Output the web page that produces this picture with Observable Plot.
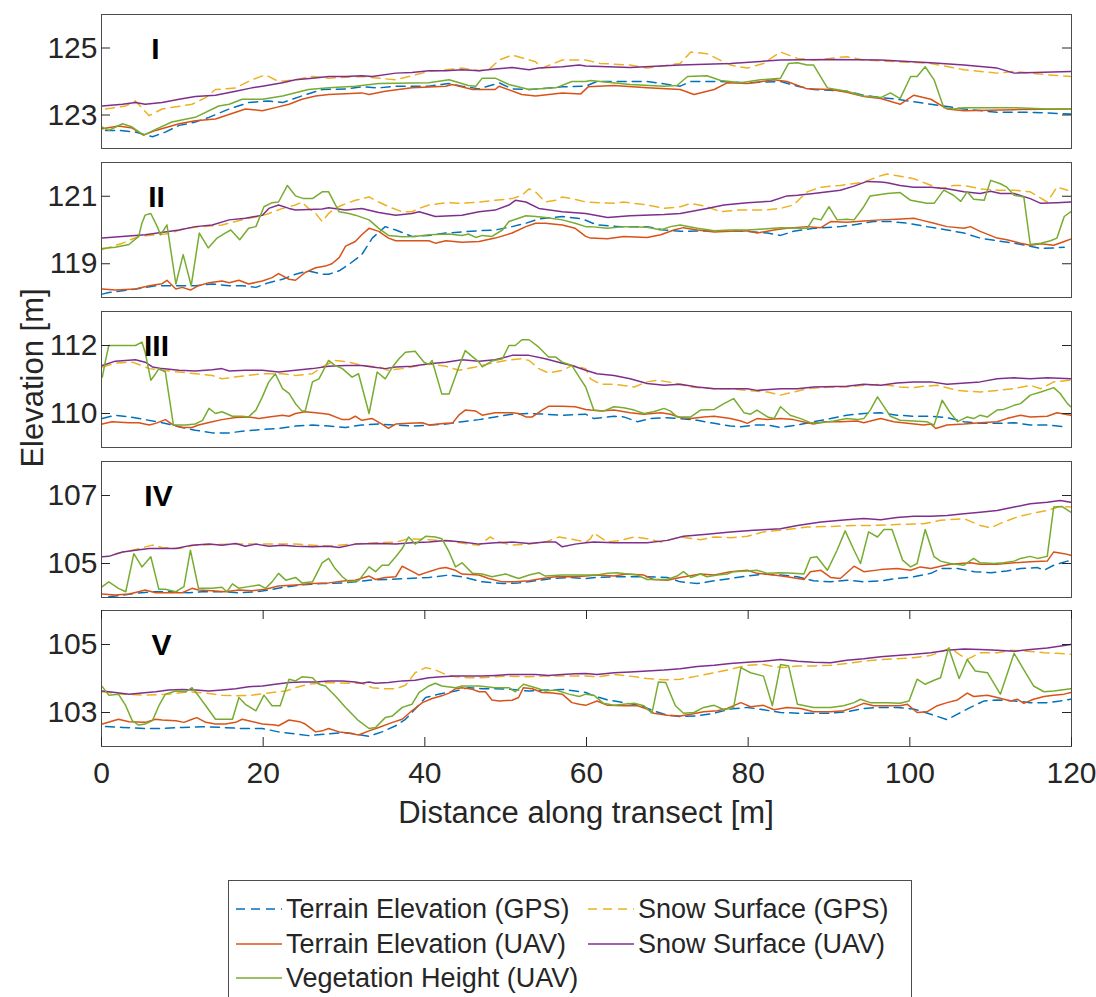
<!DOCTYPE html>
<html><head><meta charset="utf-8">
<script src="https://cdn.jsdelivr.net/npm/d3@7"></script>
<script src="https://cdn.jsdelivr.net/npm/@observablehq/plot@0.6"></script>
<style>
body{margin:0;background:#fff;font-family:"Liberation Sans",Arial,sans-serif;color:#262626;}
#fig{position:relative;width:1096px;height:997px;overflow:hidden;background:#fff;}
.panel{position:absolute;left:0;}
.lbl{position:absolute;white-space:nowrap;color:#262626;}
</style></head><body><div id="fig"></div>
<script>
// ---------- tick labels / categories ----------
const xTicks = [0, 20, 40, 60, 80, 100, 120];
const panelNames = ["I", "II", "III", "IV", "V"];
const yDomains = [[122, 126], [118, 122], [109, 113], [104, 108], [102, 106]];
const yTicks = [[123, 125], [119, 121], [110, 112], [105, 107], [103, 105]];
const seriesNames = ["Terrain Elevation (GPS)", "Snow Surface (GPS)", "Terrain Elevation (UAV)", "Snow Surface (UAV)", "Vegetation Height (UAV)"];

// ---------- Panel I ----------
const p1TerrainGPS = [[0.5,122.54],[2.1,122.54],[4.2,122.49],[6.3,122.35],[7.9,122.49],[9.6,122.69],[11.6,122.79],[13.3,122.93],[15.8,123.18],[18.2,123.37],[20.7,123.42],[22.4,123.37],[24.8,123.57],[27.3,123.76],[30.2,123.78],[32.2,123.84],[34.3,123.81],[36.4,123.86],[40.5,123.86],[43.0,123.94],[44.6,123.86],[46.7,123.78],[49.2,123.96],[50.8,123.78],[52.9,123.76],[57.0,123.84],[59.9,123.86],[61.3,124.00],[67.5,124.00],[71.6,123.86],[72.9,124.00],[76.6,124.00],[79.9,123.96],[84.0,124.00],[86.1,123.86],[88.1,123.76],[92.2,123.71],[94.3,123.59],[96.4,123.52],[98.4,123.47],[102.6,123.32],[106.7,123.18],[110.8,123.08],[114.9,123.08],[119.9,123.03]];
const p1SnowGPS = [[0.5,123.18],[3.0,123.27],[4.2,123.42],[5.9,122.98],[7.5,123.18],[11.2,123.32],[12.9,123.52],[14.1,123.76],[16.6,123.81],[18.6,124.05],[20.3,124.20],[21.9,124.00],[24.0,124.05],[26.1,124.15],[28.1,124.10],[32.2,124.15],[36.4,124.05],[40.5,124.30],[44.6,124.40],[46.7,124.32],[47.9,124.35],[49.2,124.64],[50.8,124.79],[53.7,124.59],[54.5,124.40],[57.0,124.64],[59.9,124.64],[61.7,124.54],[65.4,124.49],[67.5,124.40],[71.6,124.54],[72.9,124.88],[74.9,124.83],[77.8,124.49],[79.9,124.40],[81.9,124.54],[84.0,124.88],[86.1,124.69],[88.1,124.64],[92.2,124.74],[94.3,124.64],[98.4,124.59],[102.6,124.54],[106.7,124.35],[110.8,124.25],[112.9,124.30],[117.0,124.20],[119.9,124.15]];
const p1TerrainUAV = [[0.1,122.59],[2.1,122.67],[3.8,122.61],[5.2,122.40],[6.7,122.54],[9.6,122.74],[11.6,122.83],[14.1,122.88],[16.6,123.08],[17.8,123.18],[19.9,123.13],[21.5,123.22],[23.2,123.32],[24.8,123.47],[26.5,123.57],[28.1,123.61],[32.2,123.66],[33.1,123.61],[35.1,123.71],[38.4,123.81],[42.6,123.86],[43.4,123.91],[45.9,123.76],[48.7,123.76],[49.2,123.86],[52.0,123.61],[53.7,123.57],[57.0,123.66],[59.3,123.63],[60.2,123.84],[63.4,123.88],[67.5,123.81],[71.6,123.76],[73.3,123.61],[75.8,123.76],[77.4,123.96],[79.9,123.94],[83.2,124.05],[84.8,124.00],[87.3,123.78],[90.2,123.76],[92.2,123.68],[94.3,123.55],[96.4,123.49],[98.8,123.32],[100.5,123.59],[102.6,123.47],[104.6,123.18],[106.7,123.13],[112.9,123.16],[119.9,123.18]];
const p1SnowUAV = [[0.1,123.27],[2.6,123.32],[4.2,123.37],[5.4,123.32],[7.5,123.37],[9.6,123.47],[11.6,123.55],[14.1,123.59],[16.6,123.71],[18.6,123.81],[19.9,123.86],[22.4,123.96],[24.0,124.05],[26.1,124.10],[28.1,124.15],[30.2,124.15],[32.2,124.17],[33.5,124.15],[36.4,124.25],[38.4,124.27],[40.5,124.32],[42.6,124.32],[44.6,124.35],[46.7,124.32],[48.7,124.37],[50.8,124.42],[52.9,124.35],[54.1,124.40],[57.0,124.44],[59.1,124.49],[59.9,124.46],[65.4,124.42],[71.6,124.49],[77.8,124.54],[84.0,124.64],[90.2,124.66],[96.4,124.64],[102.6,124.56],[106.7,124.49],[110.8,124.40],[112.9,124.25],[119.9,124.30]];
const p1Veg = [[0.1,122.64],[0.9,122.54],[2.6,122.74],[3.8,122.64],[5.2,122.40],[6.7,122.57],[8.7,122.79],[11.6,122.93],[14.5,123.27],[15.8,123.32],[17.4,123.47],[19.9,123.47],[22.4,123.57],[25.6,123.76],[28.1,123.81],[31.4,123.86],[34.3,123.94],[40.5,123.96],[43.0,124.05],[45.4,123.88],[46.3,123.86],[47.1,124.10],[48.7,124.10],[50.4,123.91],[52.9,123.76],[56.2,123.81],[58.2,124.00],[59.9,124.00],[60.5,124.03],[65.4,123.91],[69.6,123.86],[71.2,123.88],[72.5,124.15],[74.9,124.17],[76.6,124.03],[79.1,123.96],[81.5,124.05],[84.0,124.10],[85.0,124.54],[86.1,124.56],[87.3,124.49],[88.1,124.49],[89.8,123.81],[92.2,123.71],[94.3,123.57],[96.4,123.52],[97.6,123.66],[98.8,123.49],[100.1,124.15],[100.9,124.15],[101.9,124.44],[103.0,124.05],[104.2,123.22],[105.4,123.18],[106.7,123.22],[112.9,123.22],[117.0,123.18],[119.9,123.18]];

// ---------- Panel II ----------
const p2TerrainGPS = [[0.1,118.10],[0.9,118.15],[2.6,118.20],[4.2,118.25],[6.7,118.35],[9.6,118.35],[11.6,118.35],[13.7,118.40],[15.8,118.35],[17.4,118.35],[19.1,118.30],[20.7,118.44],[22.4,118.54],[24.0,118.69],[25.6,118.79],[27.3,118.69],[28.1,118.69],[29.4,118.79],[30.6,118.98],[32.2,119.27],[33.5,119.76],[35.1,120.10],[36.4,120.00],[38.4,119.81],[40.5,119.84],[42.6,119.91],[44.6,119.94],[46.7,119.98],[48.7,120.00],[50.8,120.10],[52.5,120.20],[54.1,120.33],[57.0,120.40],[59.5,120.33],[61.3,120.15],[64.2,120.10],[67.5,120.10],[69.6,120.00],[71.6,119.96],[75.8,119.98],[79.9,119.96],[82.4,119.91],[84.0,119.84],[85.6,119.96],[88.1,120.05],[91.4,120.10],[93.5,120.17],[95.5,120.25],[97.6,120.25],[99.7,120.20],[102.1,120.10],[104.6,120.00],[106.7,119.91],[108.7,119.76],[110.8,119.68],[112.9,119.61],[114.9,119.52],[116.2,119.45],[117.8,119.47],[119.1,119.49]];
const p2SnowGPS = [[0.1,119.42],[2.6,119.61],[4.6,119.81],[6.7,119.86],[7.9,119.88],[9.2,119.96],[10.4,120.05],[12.5,120.10],[14.9,120.15],[16.6,120.25],[18.2,120.35],[19.5,120.40],[20.7,120.49],[22.4,120.64],[24.0,120.74],[24.8,120.83],[25.6,120.64],[26.5,120.49],[27.3,120.25],[28.1,120.49],[28.9,120.64],[29.8,120.74],[31.4,120.88],[33.1,120.98],[34.3,120.83],[35.5,120.69],[37.2,120.54],[38.4,120.54],[39.3,120.64],[40.5,120.74],[42.6,120.81],[44.6,120.79],[46.7,120.83],[48.7,120.88],[50.8,120.93],[52.0,121.03],[52.9,121.22],[53.7,121.13],[54.9,120.83],[56.2,120.88],[57.0,120.98],[58.2,120.93],[59.9,120.83],[63.4,120.79],[64.6,120.83],[67.5,120.74],[69.6,120.64],[71.6,120.69],[72.9,120.79],[74.9,120.69],[76.6,120.54],[78.6,120.59],[81.9,120.59],[84.0,120.64],[85.6,120.74],[87.3,121.13],[89.0,121.27],[91.4,121.32],[94.3,121.42],[96.4,121.61],[97.2,121.66],[99.3,121.57],[100.5,121.52],[102.1,121.37],[103.8,121.22],[105.4,121.32],[106.7,121.32],[108.7,121.22],[110.8,121.18],[112.9,121.18],[114.9,121.13],[117.0,120.83],[118.2,121.27],[119.5,121.18]];
const p2TerrainUAV = [[0.1,118.25],[1.7,118.22],[4.2,118.25],[5.9,118.35],[7.5,118.41],[8.1,118.51],[9.2,118.25],[10.0,118.30],[11.0,118.22],[12.0,118.35],[13.3,118.44],[14.9,118.49],[15.8,118.44],[17.0,118.51],[18.2,118.40],[19.9,118.49],[21.1,118.59],[21.9,118.71],[23.2,118.54],[24.0,118.51],[25.2,118.74],[26.5,118.88],[27.7,118.93],[28.5,119.00],[29.4,119.18],[30.2,119.52],[31.4,119.66],[32.2,119.86],[33.1,120.05],[34.3,119.96],[35.5,119.76],[36.4,119.68],[40.5,119.68],[41.3,119.61],[42.6,119.68],[44.6,119.64],[46.7,119.66],[48.7,119.76],[50.8,119.91],[52.5,120.10],[53.7,120.20],[54.9,120.20],[57.0,120.15],[58.6,120.05],[59.9,119.81],[60.5,119.76],[62.6,119.74],[64.6,119.81],[67.5,119.78],[69.2,119.86],[70.8,120.00],[72.0,120.07],[73.7,120.00],[75.8,119.94],[77.8,119.96],[79.9,119.98],[81.1,119.91],[83.2,120.00],[84.8,120.05],[87.3,120.10],[89.0,120.07],[90.2,120.25],[92.2,120.23],[94.3,120.27],[96.4,120.30],[98.4,120.32],[100.5,120.35],[101.3,120.30],[103.0,120.20],[104.6,120.10],[106.7,120.05],[107.5,120.10],[108.7,119.96],[110.8,119.76],[112.0,119.71],[113.7,119.61],[114.9,119.55],[116.2,119.59],[117.8,119.55],[119.1,119.66],[119.9,119.73]];
const p2SnowUAV = [[0.1,119.76],[5.4,119.86],[9.6,120.00],[11.6,120.10],[13.7,120.15],[15.8,120.30],[17.8,120.35],[19.9,120.44],[20.7,120.64],[21.9,120.74],[23.2,120.64],[24.0,120.59],[27.3,120.62],[28.1,120.66],[30.2,120.59],[32.2,120.64],[34.3,120.52],[36.4,120.44],[38.4,120.49],[39.3,120.54],[41.3,120.40],[44.6,120.44],[46.7,120.54],[48.7,120.59],[50.4,120.74],[51.2,120.88],[52.5,120.83],[54.1,120.64],[57.0,120.54],[59.9,120.49],[62.6,120.37],[65.4,120.42],[69.6,120.46],[71.6,120.49],[74.9,120.64],[77.0,120.74],[79.9,120.81],[82.8,120.85],[84.8,121.01],[86.1,121.03],[88.1,121.08],[91.4,121.18],[93.1,121.30],[94.7,121.44],[96.4,121.42],[97.2,121.40],[98.8,121.32],[100.5,121.27],[102.6,121.27],[104.6,121.22],[106.7,121.13],[108.7,121.08],[110.0,121.15],[111.2,121.08],[112.9,121.08],[114.9,120.93],[116.2,120.79],[118.2,120.81],[119.9,120.83]];
const p2Veg = [[0.1,119.45],[1.7,119.49],[3.4,119.57],[4.6,119.81],[5.0,120.20],[5.4,120.44],[6.1,120.49],[6.9,120.10],[7.3,119.86],[7.7,120.00],[8.1,120.15],[9.2,118.40],[10.1,119.27],[11.1,118.35],[12.1,119.91],[13.2,119.47],[14.3,119.76],[15.3,119.91],[16.0,120.00],[17.1,119.71],[18.2,120.05],[19.1,120.10],[20.1,120.69],[21.1,120.81],[21.9,120.83],[23.0,121.32],[24.0,121.01],[25.0,120.93],[26.1,120.93],[27.3,121.13],[28.1,121.13],[29.4,120.54],[30.6,120.49],[31.4,120.44],[33.1,120.30],[34.3,120.05],[35.5,119.84],[37.2,119.80],[38.8,119.81],[40.5,119.86],[43.0,119.88],[44.6,119.84],[45.4,119.88],[46.3,119.78],[47.1,119.84],[48.3,119.81],[49.6,120.00],[50.4,120.25],[51.6,120.35],[52.5,120.42],[53.7,120.40],[54.9,120.37],[57.0,120.30],[58.6,120.20],[59.9,120.10],[60.5,120.10],[62.6,120.05],[64.6,120.10],[67.5,120.08],[69.2,120.00],[70.4,120.10],[71.6,120.15],[73.7,120.05],[75.8,119.98],[77.8,120.00],[79.9,120.00],[81.9,120.03],[84.0,120.07],[86.5,120.05],[87.3,120.05],[88.1,120.35],[89.0,120.30],[90.0,120.69],[91.0,120.30],[92.2,120.32],[93.1,120.30],[94.3,120.69],[95.1,121.01],[97.2,121.08],[98.8,121.11],[100.1,120.88],[102.1,120.79],[103.0,120.79],[104.2,121.18],[105.4,121.03],[106.3,120.85],[107.1,121.13],[107.9,120.91],[109.2,120.88],[110.0,121.47],[111.2,121.37],[112.0,121.27],[112.9,121.03],[114.1,120.98],[114.9,119.57],[116.2,119.61],[117.4,119.68],[118.2,119.76],[119.1,120.40],[119.9,120.54]];

// ---------- Panel III ----------
const p3TerrainGPS = [[0.1,109.85],[1.7,109.95],[3.4,109.90],[5.4,109.82],[7.5,109.73],[9.6,109.61],[11.6,109.51],[13.7,109.43],[15.8,109.43],[17.8,109.49],[19.9,109.53],[21.9,109.56],[24.0,109.63],[26.1,109.66],[28.1,109.63],[30.2,109.59],[32.2,109.66],[34.3,109.69],[36.4,109.66],[38.4,109.63],[40.5,109.66],[42.6,109.69],[44.6,109.76],[46.7,109.82],[48.7,109.90],[50.8,109.98],[52.9,110.00],[54.9,109.98],[57.0,109.95],[59.9,109.98],[60.9,109.85],[63.4,109.92],[64.6,109.90],[66.3,109.76],[67.9,109.85],[69.6,109.88],[71.6,109.85],[73.7,109.80],[75.8,109.71],[77.8,109.63],[79.1,109.61],[80.7,109.66],[82.4,109.66],[84.0,109.59],[86.1,109.66],[88.1,109.76],[90.2,109.85],[92.2,109.95],[94.3,110.00],[96.4,110.02],[98.4,109.95],[100.5,109.92],[102.6,109.92],[104.6,109.88],[106.7,109.76],[108.7,109.71],[110.8,109.71],[112.9,109.73],[114.9,109.66],[117.0,109.66],[119.1,109.61]];
const p3SnowGPS = [[0.1,111.37],[1.7,111.48],[3.8,111.51],[5.0,111.41],[5.9,111.32],[7.5,111.27],[9.6,111.22],[11.6,111.17],[13.7,111.12],[14.9,111.02],[17.0,111.09],[19.9,111.17],[22.4,111.17],[24.0,111.12],[26.1,111.17],[27.3,111.37],[28.9,111.56],[30.6,111.51],[32.2,111.41],[34.3,111.37],[35.5,111.27],[37.2,111.32],[39.3,111.41],[40.5,111.46],[42.6,111.39],[44.2,111.27],[46.3,111.37],[47.9,111.46],[50.0,111.56],[52.0,111.61],[52.9,111.56],[54.1,111.32],[55.3,111.19],[57.0,111.27],[58.2,111.41],[59.9,111.32],[60.5,111.02],[61.7,110.86],[63.4,110.86],[65.9,110.78],[67.5,110.93],[68.8,110.98],[70.8,110.90],[72.9,110.78],[75.8,110.73],[77.8,110.73],[79.9,110.68],[82.4,110.63],[84.0,110.54],[85.6,110.63],[87.3,110.73],[90.2,110.78],[92.2,110.78],[94.3,110.83],[96.4,110.86],[98.8,110.78],[100.5,110.76],[101.7,110.80],[103.4,110.83],[105.9,110.68],[108.7,110.63],[110.8,110.68],[112.9,110.73],[114.9,110.83],[116.2,110.73],[117.8,110.93],[119.9,110.98]];
const p3TerrainUAV = [[0.1,109.69],[1.3,109.76],[3.4,109.73],[4.6,109.73],[5.9,109.66],[6.7,109.71],[7.9,109.82],[8.9,109.66],[10.0,109.59],[11.2,109.59],[12.0,109.66],[13.7,109.76],[14.9,109.82],[16.6,109.88],[18.2,109.90],[19.5,109.85],[20.7,109.90],[22.4,109.95],[23.2,109.92],[24.0,110.00],[25.2,110.05],[26.5,110.02],[28.1,109.98],[29.8,109.82],[30.6,109.82],[31.4,109.92],[32.2,109.80],[33.5,109.85],[34.7,109.69],[35.5,109.56],[36.4,109.69],[38.0,109.71],[39.7,109.73],[40.5,109.66],[42.6,109.71],[43.4,109.71],[44.2,109.95],[45.0,110.10],[46.3,110.07],[47.1,109.95],[48.7,110.02],[50.8,110.02],[51.6,110.00],[52.5,109.90],[53.3,109.90],[54.5,110.10],[55.3,110.21],[57.0,110.21],[58.6,110.20],[59.9,110.12],[60.5,110.10],[61.7,110.07],[63.4,110.10],[65.4,110.02],[67.1,109.98],[69.2,110.02],[70.4,109.98],[71.6,109.88],[72.9,109.85],[74.5,109.90],[75.8,109.92],[77.8,109.85],[79.1,109.78],[79.9,109.71],[81.1,109.85],[82.4,109.82],[84.0,109.85],[85.6,109.82],[87.3,109.73],[88.1,109.69],[89.4,109.76],[91.4,109.76],[93.5,109.78],[94.3,109.73],[95.5,109.80],[96.4,109.85],[98.0,109.76],[99.7,109.71],[101.7,109.66],[102.6,109.69],[103.2,109.56],[104.6,109.66],[106.7,109.69],[108.7,109.73],[110.8,109.76],[112.0,109.85],[113.7,109.95],[114.9,109.90],[117.0,109.92],[118.2,110.02],[119.9,109.95]];
const p3SnowUAV = [[0.1,111.41],[1.7,111.54],[4.2,111.58],[5.4,111.51],[6.3,111.37],[7.5,111.32],[9.6,111.27],[11.6,111.25],[13.7,111.29],[14.9,111.32],[15.8,111.25],[17.8,111.27],[19.9,111.27],[21.9,111.22],[24.0,111.27],[26.1,111.32],[28.1,111.39],[30.2,111.41],[32.2,111.41],[33.5,111.37],[35.1,111.32],[36.4,111.37],[38.4,111.39],[40.5,111.46],[42.6,111.51],[44.6,111.58],[46.7,111.54],[48.7,111.58],[50.8,111.71],[52.9,111.71],[54.9,111.61],[57.0,111.48],[58.2,111.41],[59.9,111.27],[61.3,111.17],[63.4,111.12],[65.4,111.02],[67.5,110.88],[69.6,110.83],[71.6,110.86],[73.7,110.78],[75.8,110.73],[77.8,110.73],[79.9,110.73],[81.1,110.68],[84.0,110.73],[86.1,110.73],[88.1,110.78],[92.2,110.80],[94.3,110.86],[96.4,110.83],[98.4,110.90],[100.5,110.93],[102.6,110.93],[104.6,110.86],[108.7,110.93],[110.8,111.02],[112.9,111.05],[114.9,111.02],[117.0,111.05],[119.9,111.02]];
const p3Veg = [[0.1,111.07],[0.5,111.56],[0.9,112.00],[2.6,112.00],[4.2,112.00],[5.0,112.10],[5.4,111.80],[6.1,110.98],[6.7,111.17],[7.1,111.32],[7.9,111.22],[8.9,109.66],[10.4,109.66],[11.6,109.69],[12.5,109.80],[13.3,110.15],[14.1,110.00],[14.9,110.05],[16.2,109.92],[17.4,109.92],[18.2,109.90],[19.1,110.10],[19.9,110.49],[20.7,110.93],[21.5,111.17],[22.4,110.73],[23.2,110.59],[24.0,110.29],[24.8,110.07],[25.2,110.07],[26.1,110.93],[26.9,111.02],[28.1,111.56],[28.9,111.41],[29.8,111.32],[31.0,111.07],[31.8,111.17],[33.1,110.00],[34.1,111.22],[35.1,111.02],[36.0,111.37],[36.8,111.61],[37.6,111.80],[38.8,111.83],[39.9,111.51],[40.5,111.44],[40.9,111.56],[42.1,110.57],[43.0,110.57],[44.2,111.37],[45.0,111.85],[46.7,111.51],[47.1,111.37],[48.3,111.54],[49.6,111.61],[50.4,112.00],[51.2,112.00],[52.0,112.17],[52.9,112.17],[54.1,111.95],[55.3,111.66],[56.2,111.66],[57.0,111.51],[58.2,111.41],[59.1,111.07],[59.9,110.78],[60.9,110.10],[62.1,110.07],[63.4,110.20],[64.6,110.17],[65.9,110.10],[67.1,110.00],[68.3,110.05],[69.6,110.15],[70.4,110.07],[71.2,109.90],[72.9,109.90],[74.1,110.10],[75.8,110.12],[77.0,110.29],[78.2,110.44],[79.5,110.02],[80.3,109.98],[81.1,110.10],[82.4,109.90],[83.2,109.85],[84.0,110.20],[85.2,109.95],[86.5,109.85],[87.7,109.73],[89.0,109.73],[90.6,109.78],[92.2,109.85],[93.5,109.82],[94.3,109.85],[95.1,110.10],[96.0,110.49],[96.8,110.20],[97.6,109.92],[98.8,109.80],[100.5,109.78],[102.1,109.76],[103.0,109.66],[104.0,110.39],[105.0,110.02],[105.9,109.76],[107.1,109.90],[107.9,109.85],[108.7,109.95],[109.6,109.90],[110.8,110.10],[111.6,110.12],[112.9,110.24],[113.7,110.29],[114.9,110.54],[116.2,110.63],[117.8,110.76],[118.6,110.59],[119.5,110.29],[119.9,110.20]];

// ---------- Panel IV ----------
const p4TerrainGPS = [[0.9,104.02],[2.6,104.07],[4.2,104.12],[6.3,104.17],[8.7,104.17],[10.8,104.14],[12.5,104.17],[14.9,104.17],[17.0,104.14],[19.1,104.17],[20.7,104.22],[22.4,104.30],[24.8,104.37],[27.3,104.41],[29.8,104.43],[31.4,104.46],[33.1,104.51],[35.5,104.53],[38.0,104.56],[40.5,104.59],[43.0,104.66],[44.6,104.61],[47.1,104.46],[49.6,104.41],[51.6,104.43],[53.7,104.49],[55.8,104.56],[57.8,104.59],[59.9,104.56],[61.3,104.59],[63.4,104.61],[67.5,104.61],[70.0,104.59],[71.6,104.46],[73.7,104.41],[75.8,104.49],[77.8,104.56],[79.9,104.63],[81.9,104.69],[84.0,104.66],[86.1,104.61],[88.1,104.49],[90.2,104.46],[92.2,104.51],[94.3,104.46],[96.4,104.49],[98.4,104.56],[100.5,104.61],[102.6,104.71],[103.8,104.85],[105.9,104.85],[108.0,104.76],[110.0,104.73],[112.0,104.78],[113.7,104.85],[115.8,104.88],[116.6,104.80],[117.8,104.95],[119.5,105.07],[119.9,105.10]];
const p4SnowGPS = [[1.7,105.29],[3.8,105.39],[6.3,105.54],[7.5,105.47],[9.6,105.44],[11.6,105.54],[15.8,105.57],[19.9,105.57],[24.0,105.57],[28.1,105.51],[32.2,105.59],[36.4,105.63],[38.0,105.73],[40.5,105.70],[43.0,105.66],[45.4,105.57],[46.7,105.54],[48.1,105.78],[49.2,105.63],[50.8,105.54],[52.9,105.57],[54.9,105.63],[56.6,105.78],[57.8,105.73],[59.9,105.63],[60.5,105.73],[60.9,105.90],[62.6,105.63],[64.2,105.68],[65.9,105.78],[67.5,105.73],[69.2,105.63],[71.6,105.78],[74.1,105.70],[75.8,105.78],[77.8,105.76],[79.9,105.80],[81.9,105.93],[84.0,105.98],[87.3,106.07],[90.2,106.09],[93.1,106.12],[95.5,106.12],[98.4,106.15],[101.7,106.17],[103.8,106.27],[106.7,106.32],[108.7,106.12],[110.0,106.05],[111.6,106.22],[113.3,106.37],[114.9,106.46],[117.0,106.56],[118.6,106.68],[119.9,106.66]];
const p4TerrainUAV = [[0.1,104.10],[1.7,104.07],[3.4,104.10],[4.6,104.17],[5.4,104.22],[6.7,104.14],[8.7,104.14],[10.0,104.14],[11.2,104.27],[12.0,104.22],[13.7,104.20],[15.3,104.17],[17.0,104.22],[18.6,104.20],[20.3,104.24],[21.9,104.34],[24.0,104.37],[26.1,104.41],[28.1,104.43],[30.2,104.49],[31.4,104.51],[33.1,104.63],[33.9,104.53],[35.1,104.59],[36.4,104.61],[37.2,104.92],[38.2,104.80],[39.3,104.66],[40.5,104.76],[41.7,104.85],[42.6,104.88],[43.8,104.80],[44.6,104.69],[46.7,104.66],[47.9,104.56],[49.6,104.46],[51.2,104.46],[52.9,104.49],[54.5,104.56],[56.2,104.61],[58.2,104.61],[59.9,104.63],[61.3,104.66],[63.4,104.63],[65.0,104.69],[67.1,104.66],[68.3,104.53],[70.0,104.51],[71.6,104.59],[74.1,104.69],[75.8,104.66],[77.8,104.76],[79.9,104.80],[81.1,104.71],[83.2,104.66],[84.8,104.61],[86.9,104.53],[87.7,104.76],[89.0,104.80],[90.2,104.59],[91.4,104.56],[93.1,104.92],[94.3,104.76],[96.4,104.82],[98.4,104.85],[100.1,104.80],[101.3,104.90],[102.6,104.85],[103.8,104.92],[105.0,104.98],[107.5,105.02],[108.7,104.98],[110.8,104.98],[112.9,105.02],[114.9,105.05],[117.0,105.07],[117.8,105.34],[119.1,105.29],[119.9,105.24]];
const p4SnowUAV = [[0.1,105.20],[0.9,105.21],[2.6,105.34],[4.2,105.39],[5.9,105.44],[9.2,105.44],[11.2,105.54],[13.3,105.57],[14.9,105.54],[16.6,105.59],[17.8,105.51],[19.1,105.57],[20.7,105.51],[22.4,105.54],[24.0,105.51],[26.1,105.49],[28.1,105.51],[29.4,105.47],[31.4,105.57],[34.3,105.59],[36.4,105.57],[38.4,105.61],[40.5,105.63],[42.6,105.68],[44.6,105.63],[46.7,105.57],[48.7,105.61],[50.8,105.63],[52.9,105.59],[54.9,105.63],[56.2,105.63],[57.0,105.49],[58.6,105.57],[59.9,105.61],[60.9,105.63],[63.4,105.61],[67.5,105.61],[70.0,105.68],[72.0,105.80],[74.9,105.86],[77.8,105.93],[80.7,105.98],[84.0,106.02],[86.1,106.12],[89.0,106.22],[92.2,106.29],[94.3,106.32],[96.4,106.29],[98.4,106.35],[100.5,106.39],[102.6,106.39],[104.6,106.41],[106.7,106.46],[108.7,106.51],[110.8,106.56],[112.9,106.66],[114.9,106.76],[117.0,106.80],[118.6,106.85],[119.9,106.80]];
const p4Veg = [[0.1,104.32],[0.9,104.46],[2.1,104.27],[3.0,104.17],[4.0,105.29],[5.0,104.90],[6.1,105.20],[7.1,104.24],[7.9,104.24],[9.2,104.17],[10.2,104.32],[11.0,105.39],[12.0,104.27],[13.7,104.27],[14.9,104.30],[15.5,104.17],[16.2,104.40],[17.0,104.27],[18.2,104.32],[19.5,104.37],[20.3,104.27],[21.1,104.46],[21.9,104.71],[22.8,104.51],[24.0,104.59],[24.8,104.43],[26.1,104.46],[27.3,105.02],[28.1,105.15],[28.9,104.85],[29.8,104.61],[30.6,104.46],[31.8,104.49],[33.1,104.90],[33.9,104.76],[34.7,104.95],[35.5,104.95],[36.4,105.20],[37.2,105.44],[38.0,105.78],[38.8,105.57],[40.1,105.80],[41.3,105.78],[42.1,105.73],[43.0,105.34],[43.8,104.90],[44.6,105.02],[45.9,104.71],[47.1,104.69],[48.3,104.61],[50.0,104.69],[51.6,104.56],[52.9,104.66],[54.1,104.73],[54.9,104.63],[57.0,104.66],[59.1,104.66],[59.9,104.66],[61.3,104.66],[62.6,104.71],[63.8,104.73],[65.0,104.69],[66.3,104.66],[67.5,104.53],[70.0,104.53],[71.2,104.63],[72.0,104.76],[72.9,104.59],[74.1,104.69],[74.9,104.61],[76.2,104.66],[77.4,104.69],[78.2,104.76],[79.9,104.78],[81.1,104.80],[82.4,104.71],[84.0,104.73],[85.6,104.71],[86.9,104.69],[87.7,105.17],[88.5,105.20],[89.8,104.80],[91.0,105.39],[92.0,105.96],[93.1,105.39],[93.9,105.00],[94.9,105.93],[96.0,105.78],[96.8,106.00],[97.8,106.00],[99.1,105.10],[100.1,104.90],[100.9,105.00],[101.9,106.00],[103.0,105.20],[103.8,105.07],[105.0,105.00],[106.7,104.95],[107.9,105.15],[108.7,105.02],[110.4,105.00],[111.6,105.02],[112.9,105.07],[113.7,105.15],[114.9,105.21],[115.8,105.15],[117.0,105.21],[117.8,106.66],[118.8,106.68],[119.9,106.51]];

// ---------- Panel V ----------
const p5TerrainGPS = [[0.5,102.59],[2.6,102.56],[5.4,102.53],[7.5,102.53],[10.0,102.56],[12.5,102.58],[14.9,102.56],[17.4,102.53],[19.9,102.53],[21.9,102.43],[24.0,102.37],[25.6,102.32],[28.1,102.37],[29.8,102.41],[31.4,102.37],[33.1,102.30],[34.7,102.43],[36.4,102.61],[37.6,102.80],[38.8,103.10],[40.1,103.44],[41.7,103.54],[43.8,103.63],[45.4,103.73],[47.1,103.70],[48.7,103.70],[50.8,103.68],[52.9,103.63],[54.9,103.66],[57.0,103.68],[58.6,103.63],[59.9,103.59],[60.9,103.49],[62.6,103.37],[64.6,103.29],[66.7,103.20],[68.3,103.05],[70.0,102.92],[71.6,102.88],[73.7,102.90],[75.8,102.98],[77.8,103.10],[79.9,103.15],[81.9,103.08],[84.0,103.00],[86.1,102.98],[88.1,102.98],[90.2,102.98],[92.2,103.02],[94.3,103.12],[96.4,103.15],[98.4,103.15],[100.5,103.10],[102.6,102.95],[104.6,102.79],[105.9,102.95],[107.5,103.15],[109.2,103.34],[110.8,103.37],[112.9,103.34],[114.9,103.29],[117.0,103.29],[118.6,103.34],[119.9,103.39]];
const p5SnowGPS = [[0.1,103.61],[2.6,103.54],[5.4,103.51],[8.3,103.54],[10.8,103.61],[12.9,103.57],[14.9,103.51],[16.6,103.49],[18.6,103.51],[21.1,103.59],[22.8,103.63],[24.0,103.73],[25.6,103.83],[28.1,103.88],[30.2,103.86],[32.2,103.86],[33.5,103.73],[35.1,103.70],[36.4,103.70],[37.6,103.80],[38.8,104.17],[40.1,104.32],[41.3,104.25],[42.6,104.12],[43.8,104.05],[45.4,104.02],[47.1,104.02],[48.7,104.05],[50.4,104.07],[52.9,104.05],[54.9,104.07],[57.0,104.07],[59.9,104.07],[61.3,104.05],[63.4,104.12],[65.4,104.07],[67.5,104.00],[69.6,103.96],[71.6,103.98],[73.7,104.07],[75.8,104.17],[77.8,104.27],[79.9,104.39],[81.9,104.41],[83.2,104.35],[84.4,104.32],[86.1,104.37],[88.1,104.37],[90.2,104.39],[92.2,104.44],[94.3,104.51],[96.4,104.56],[98.4,104.58],[100.5,104.61],[102.6,104.68],[103.8,104.78],[105.0,104.90],[106.3,104.68],[107.1,104.56],[107.9,104.66],[108.7,104.76],[110.8,104.76],[112.5,104.83],[114.5,104.80],[116.6,104.76],[118.2,104.74],[119.9,104.71]];
const p5TerrainUAV = [[0.1,102.66],[2.1,102.80],[3.4,102.73],[5.4,102.71],[6.7,102.80],[7.5,102.78],[9.2,102.76],[10.2,102.71],[11.2,102.80],[11.8,102.85],[12.9,102.71],[14.1,102.66],[15.3,102.66],[16.6,102.71],[17.4,102.80],[18.2,102.76],[19.9,102.66],[21.5,102.63],[21.9,102.61],[23.2,102.78],[24.5,102.73],[25.2,102.66],[26.5,102.43],[27.3,102.46],[28.1,102.53],[29.4,102.43],[30.6,102.40],[31.8,102.34],[33.1,102.46],[34.3,102.56],[36.0,102.71],[37.2,102.80],[38.4,103.05],[39.7,103.29],[40.9,103.41],[42.1,103.49],[43.0,103.57],[43.8,103.70],[44.6,103.73],[45.9,103.68],[46.7,103.61],[47.5,103.61],[48.3,103.37],[49.2,103.34],[50.8,103.36],[51.6,103.44],[52.2,103.73],[53.3,103.70],[54.5,103.59],[55.8,103.57],[57.0,103.54],[58.2,103.29],[59.1,103.24],[59.9,103.21],[61.3,103.34],[62.6,103.21],[64.6,103.20],[66.3,103.20],[67.5,103.10],[68.3,102.98],[70.0,102.92],[71.6,102.90],[72.9,102.95],[74.5,103.02],[76.2,103.05],[77.4,103.12],[79.1,103.29],[80.3,103.17],[81.9,103.21],[83.2,103.08],[84.8,103.15],[86.5,103.12],[88.1,103.02],[90.2,103.02],[91.8,103.05],[93.1,103.15],[94.3,103.27],[95.5,103.20],[97.2,103.20],[98.8,103.20],[99.7,103.24],[100.9,103.00],[102.1,103.02],[103.4,103.20],[104.6,103.29],[105.9,103.37],[107.1,103.57],[107.9,103.47],[109.6,103.51],[110.8,103.44],[112.5,103.34],[113.3,103.39],[114.1,103.27],[115.3,103.39],[116.6,103.47],[117.8,103.51],[119.1,103.54],[119.9,103.59]];
const p5SnowUAV = [[0.1,103.63],[1.7,103.59],[3.4,103.54],[5.0,103.57],[6.7,103.61],[8.3,103.66],[10.0,103.68],[11.6,103.66],[13.3,103.63],[14.9,103.66],[16.6,103.70],[18.2,103.76],[19.9,103.78],[21.5,103.83],[23.2,103.88],[24.8,103.90],[26.5,103.90],[28.1,103.93],[29.8,103.93],[31.4,103.90],[32.2,103.86],[33.1,103.90],[33.9,103.86],[35.5,103.88],[37.2,103.93],[38.8,103.95],[40.5,104.02],[42.1,104.05],[43.8,104.07],[45.4,104.07],[47.1,104.07],[48.7,104.09],[50.4,104.12],[52.0,104.12],[53.7,104.12],[55.3,104.09],[57.0,104.12],[58.6,104.14],[59.9,104.15],[61.3,104.12],[63.4,104.17],[65.4,104.19],[67.5,104.22],[69.6,104.25],[71.6,104.29],[73.7,104.35],[75.8,104.39],[77.8,104.44],[79.9,104.48],[81.9,104.51],[84.0,104.56],[86.1,104.51],[88.1,104.48],[90.2,104.46],[92.2,104.54],[94.3,104.58],[96.4,104.64],[98.4,104.68],[100.5,104.71],[102.6,104.76],[104.6,104.83],[106.7,104.87],[108.7,104.85],[110.8,104.83],[112.9,104.80],[114.9,104.85],[117.0,104.90],[119.1,104.97],[119.9,105.00]];
const p5Veg = [[0.1,103.76],[0.9,103.51],[2.1,103.54],[3.0,103.20],[3.8,102.76],[4.6,102.63],[5.4,102.66],[6.3,102.76],[7.1,103.20],[7.9,103.54],[9.2,103.63],[10.4,103.61],[11.2,103.73],[12.0,103.49],[12.9,103.20],[14.1,102.80],[16.2,102.80],[17.0,103.44],[17.8,103.24],[19.1,103.05],[20.1,103.51],[21.1,103.20],[22.1,103.20],[23.2,103.98],[24.0,103.93],[24.8,104.05],[26.1,104.02],[26.9,103.83],[27.7,103.78],[28.9,103.49],[30.2,103.15],[31.8,102.76],[33.1,102.53],[33.9,102.56],[35.1,102.85],[36.0,102.90],[37.2,103.15],[38.4,103.24],[39.3,103.59],[40.5,103.78],[41.3,103.86],[42.1,103.78],[43.8,103.73],[44.6,103.78],[46.7,103.78],[48.7,103.73],[50.4,103.73],[51.2,103.61],[52.2,103.83],[53.7,103.73],[54.9,103.63],[56.2,103.66],[57.8,103.54],[59.1,103.47],[59.9,103.54],[60.9,103.51],[62.1,103.27],[63.4,103.21],[64.6,103.24],[65.9,103.27],[67.1,103.20],[68.1,102.98],[68.9,103.90],[69.8,103.88],[71.0,103.20],[72.0,102.98],[73.3,103.00],[74.5,103.15],[75.8,103.21],[77.0,103.08],[78.2,103.15],[79.1,104.32],[80.3,104.17],[81.9,104.07],[83.0,103.20],[84.0,104.41],[85.0,104.37],[86.1,103.24],[88.1,103.15],[90.2,103.15],[91.8,103.20],[93.1,103.29],[93.9,103.39],[95.1,103.29],[97.2,103.29],[98.8,103.27],[99.9,103.34],[100.9,103.98],[101.9,103.83],[103.0,103.95],[103.8,104.02],[104.8,104.90],[106.1,104.00],[107.1,104.56],[108.1,104.22],[109.6,104.17],[111.2,103.54],[112.9,104.74],[114.5,104.10],[115.3,103.78],[116.6,103.61],[117.8,103.63],[119.9,103.70]];

// ---------- assembling ----------
const panelSeries = [
  [p1TerrainGPS, p1SnowGPS, p1TerrainUAV, p1SnowUAV, p1Veg],
  [p2TerrainGPS, p2SnowGPS, p2TerrainUAV, p2SnowUAV, p2Veg],
  [p3TerrainGPS, p3SnowGPS, p3TerrainUAV, p3SnowUAV, p3Veg],
  [p4TerrainGPS, p4SnowGPS, p4TerrainUAV, p4SnowUAV, p4Veg],
  [p5TerrainGPS, p5SnowGPS, p5TerrainUAV, p5SnowUAV, p5Veg]
];

// styles & layout (not data)
const seriesStyle = [
  {stroke: "#0072BD", dash: "9,6"},
  {stroke: "#EDB120", dash: "9,6"},
  {stroke: "#D95319", dash: null},
  {stroke: "#7E2F8E", dash: null},
  {stroke: "#77AC30", dash: null}
];
const W = 1096, ML = 101, MR = 25;
const FW = W - ML - MR;
const frames = [{top: 14, h: 134}, {top: 162, h: 135}, {top: 311, h: 136}, {top: 461, h: 136}, {top: 610, h: 136}];
const labelDx = [54, 55, 55, 57, 60];
const FONT = '"Liberation Sans", Arial, Helvetica, sans-serif';
const TXT = "#262626";
const fig = document.getElementById("fig");
const intFmt = d3.format("d");

panelNames.forEach((name, i) => {
  const last = i === panelNames.length - 1;
  const mt = 2, mb = last ? 60 : 2;
  const fh = frames[i].h;
  const marks = [];
  panelSeries[i].forEach((data, s) => {
    const st = seriesStyle[s];
    marks.push(Plot.line(data, {
      x: d => d[0], y: d => d[1], stroke: st.stroke, strokeWidth: 1.5,
      strokeDasharray: st.dash || undefined, clip: true
    }));
  });
  marks.push(Plot.frame({stroke: "#4d4d4d", strokeWidth: 1}));
  marks.push(Plot.tickY(yTicks[i], {y: d => d, stroke: TXT, strokeWidth: 1, insetRight: FW - 9}));
  marks.push(Plot.tickY(yTicks[i], {y: d => d, stroke: TXT, strokeWidth: 1, insetLeft: FW - 9}));
  marks.push(Plot.axisY({ticks: yTicks[i], tickFormat: intFmt, tickSize: 0, tickPadding: 4, fontSize: 30, label: null, fill: TXT}));
  if (last) {
    marks.push(Plot.tickX(xTicks, {x: d => d, stroke: TXT, strokeWidth: 1, insetBottom: fh - 9}));
    marks.push(Plot.tickX(xTicks, {x: d => d, stroke: TXT, strokeWidth: 1, insetTop: fh - 9}));
    marks.push(Plot.axisX({ticks: xTicks, tickFormat: intFmt, tickSize: 0, tickPadding: 15, fontSize: 30, label: null, fill: TXT}));
  }
  marks.push(Plot.text([name], {
    text: d => d, frameAnchor: "top-left", dx: labelDx[i], dy: 23,
    fontSize: 30, fontWeight: "bold", textAnchor: "middle", fill: "#000"
  }));
  const svg = Plot.plot({
    width: W, height: fh + mt + mb,
    marginLeft: ML, marginRight: MR, marginTop: mt, marginBottom: mb,
    x: {domain: [0, 120], axis: last ? undefined : null},
    y: {domain: yDomains[i]},
    style: {fontFamily: FONT, color: TXT, background: "transparent", overflow: "visible"},
    marks
  });
  svg.classList.add("panel");
  svg.style.top = (frames[i].top - mt) + "px";
  fig.appendChild(svg);
});

// axis titles
const yl = document.createElement("div");
yl.className = "lbl";
yl.textContent = "Elevation [m]";
Object.assign(yl.style, {left: "33px", top: "378px", fontSize: "31px", fontFamily: FONT,
  transform: "translate(-50%,-50%) rotate(-90deg)"});
fig.appendChild(yl);
const xl = document.createElement("div");
xl.className = "lbl";
xl.textContent = "Distance along transect [m]";
Object.assign(xl.style, {left: (ML + FW / 2) + "px", top: "813px", fontSize: "31px", fontFamily: FONT,
  transform: "translate(-50%,-50%)"});
fig.appendChild(xl);

// legend
const leg = document.createElement("div");
Object.assign(leg.style, {position: "absolute", left: "228px", top: "880px", width: "684px", height: "140px",
  border: "1px solid #4d4d4d", background: "#fff", boxSizing: "border-box"});
fig.appendChild(leg);
const legPos = [
  {x: 6, y: 28}, {x: 358, y: 28}, {x: 6, y: 63}, {x: 358, y: 63}, {x: 6, y: 97}
];
seriesNames.forEach((nm, s) => {
  const st = seriesStyle[s];
  const item = document.createElement("div");
  Object.assign(item.style, {position: "absolute", left: legPos[s].x + "px", top: (legPos[s].y - 18) + "px",
    height: "36px", display: "flex", alignItems: "center", whiteSpace: "nowrap"});
  const ns = "http://www.w3.org/2000/svg";
  const sw = document.createElementNS(ns, "svg");
  sw.setAttribute("width", "48"); sw.setAttribute("height", "10");
  const ln = document.createElementNS(ns, "line");
  ln.setAttribute("x1", "1"); ln.setAttribute("x2", "47"); ln.setAttribute("y1", "5"); ln.setAttribute("y2", "5");
  ln.setAttribute("stroke", st.stroke); ln.setAttribute("stroke-width", "1.5");
  if (st.dash) ln.setAttribute("stroke-dasharray", st.dash);
  sw.appendChild(ln);
  item.appendChild(sw);
  const t = document.createElement("span");
  t.textContent = nm;
  Object.assign(t.style, {fontSize: "27px", fontFamily: FONT, color: TXT, marginLeft: "3px"});
  item.appendChild(t);
  leg.appendChild(item);
});
</script></body></html>
